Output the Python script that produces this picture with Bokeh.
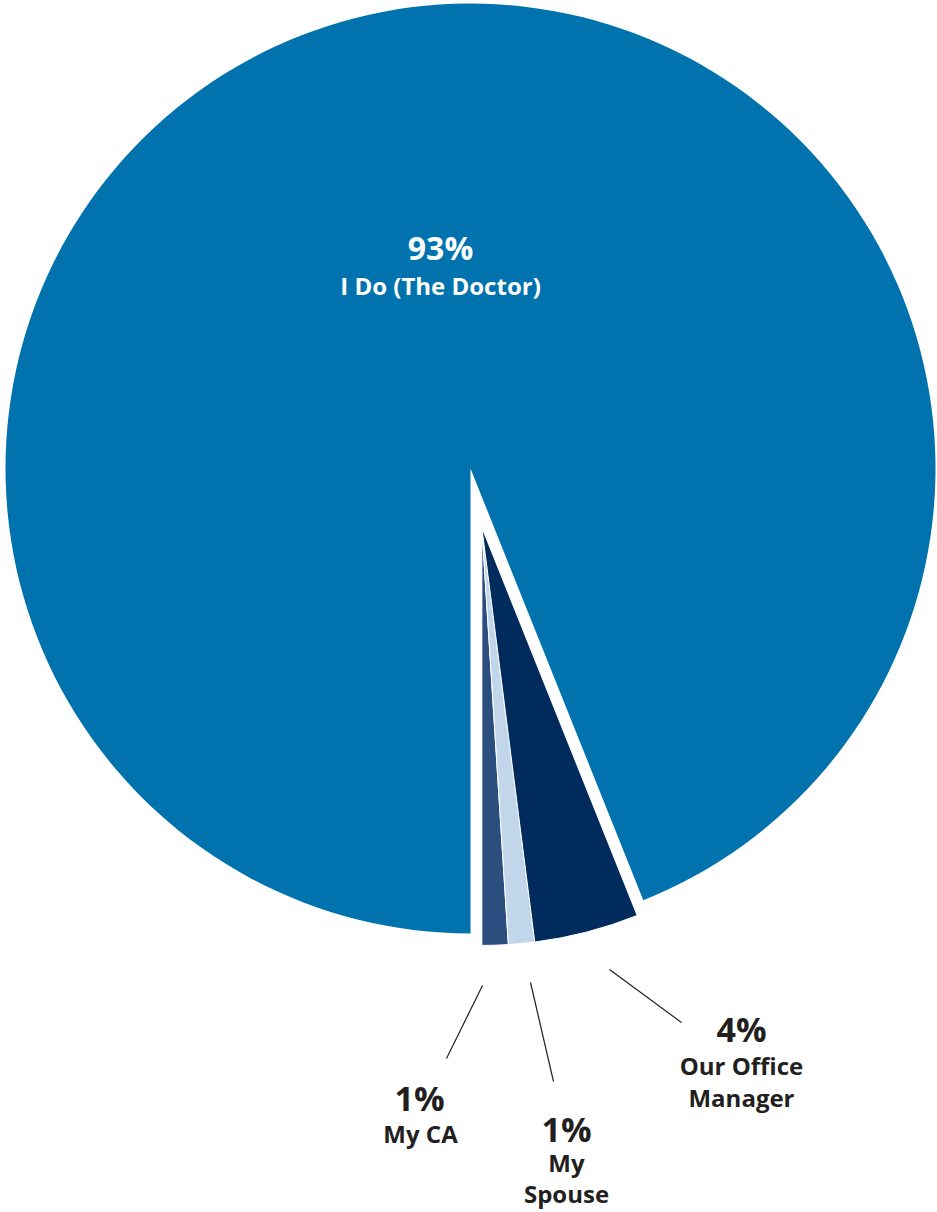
import numpy as np
from bokeh.plotting import figure
from bokeh.models import Range1d, ColumnDataSource
from bokeh.embed import file_html
from bokeh.resources import INLINE
from bokeh.core.properties import value

# ---- data ----
categories = ["I Do (The Doctor)", "My CA", "My Spouse", "Our Office Manager"]
percents = [93, 1, 1, 4]
pct_labels = ["93%", "1%", "1%", "4%"]
name_lines = [["I Do (The Doctor)"], ["My CA"], ["My", "Spouse"], ["Our Office", "Manager"]]
colors = ["#0073AE", "#2B4E7E", "#C1D6EA", "#002B5C"]

# ---- layout ----
W, H = 937, 1212
def sy(y):
    return H - y

CX, CY = 470, sy(468)
R_MAIN = 465
R_SMALL = 418
EXPLODE = 60
FONT = "Open Sans"
TEXT_DARK = "#231F20"

# label anchors (screen coords): pct position, name positions
label_layout = {
    0: ((440, 247), [(440, 285)], "white"),
    1: ((419, 1097), [(420, 1133)], TEXT_DARK),
    2: ((566, 1128), [(566, 1162), (566, 1193)], TEXT_DARK),
    3: ((741, 1028), [(741, 1065), (741, 1097)], TEXT_DARK),
}
leaders = {
    1: ((482, 985), (446, 1058)),
    2: ((530, 982), (553, 1081)),
    3: ((609, 969), (681, 1022)),
}

total = float(sum(percents))
ang = [p / total * 2 * np.pi for p in percents]
small_total = sum(ang[1:])

p = figure(width=W, height=H, x_range=Range1d(0, W), y_range=Range1d(0, H),
           output_backend="svg", toolbar_location=None, min_border=0)
p.axis.visible = False
p.grid.visible = False
p.outline_line_color = None
p.background_fill_color = "white"
p.border_fill_color = "white"

# main slice
main_start = -np.pi / 2 + small_total
main_end = 3 * np.pi / 2
p.wedge(x=CX, y=CY, radius=R_MAIN, start_angle=main_start, end_angle=main_end,
        fill_color=colors[0], line_color=None)

# exploded small slices
mid = -np.pi / 2 + small_total / 2
ax = CX + EXPLODE * np.cos(mid)
ay = CY + EXPLODE * np.sin(mid)
starts, ends = [], []
a = -np.pi / 2
for k in range(1, len(percents)):
    starts.append(a)
    a += ang[k]
    ends.append(a)
src = ColumnDataSource(dict(start=starts, end=ends, color=colors[1:]))
p.wedge(x=ax, y=ay, radius=R_SMALL, start_angle="start", end_angle="end",
        fill_color="color", line_color="white", line_width=1, source=src)

# leader lines
for k, ((x0, y0), (x1, y1)) in leaders.items():
    p.segment(x0=x0, y0=sy(y0), x1=x1, y1=sy(y1), line_color="#231F20", line_width=1.2)

# labels
for k in range(len(percents)):
    (px, py), names, col = label_layout[k]
    p.text(x=[px], y=[sy(py)], text=[pct_labels[k]], text_align="center",
           text_baseline="middle", text_font=value(FONT), text_font_style="bold",
           text_font_size=value("34px" if k else "32px"), text_color=col)
    for (nx, ny), t in zip(names, name_lines[k]):
        p.text(x=[nx], y=[sy(ny)], text=[t], text_align="center",
               text_baseline="middle", text_font=value(FONT), text_font_style="bold",
               text_font_size=value("24px"), text_color=col)

open("out.html", "w").write(file_html(p, INLINE))
